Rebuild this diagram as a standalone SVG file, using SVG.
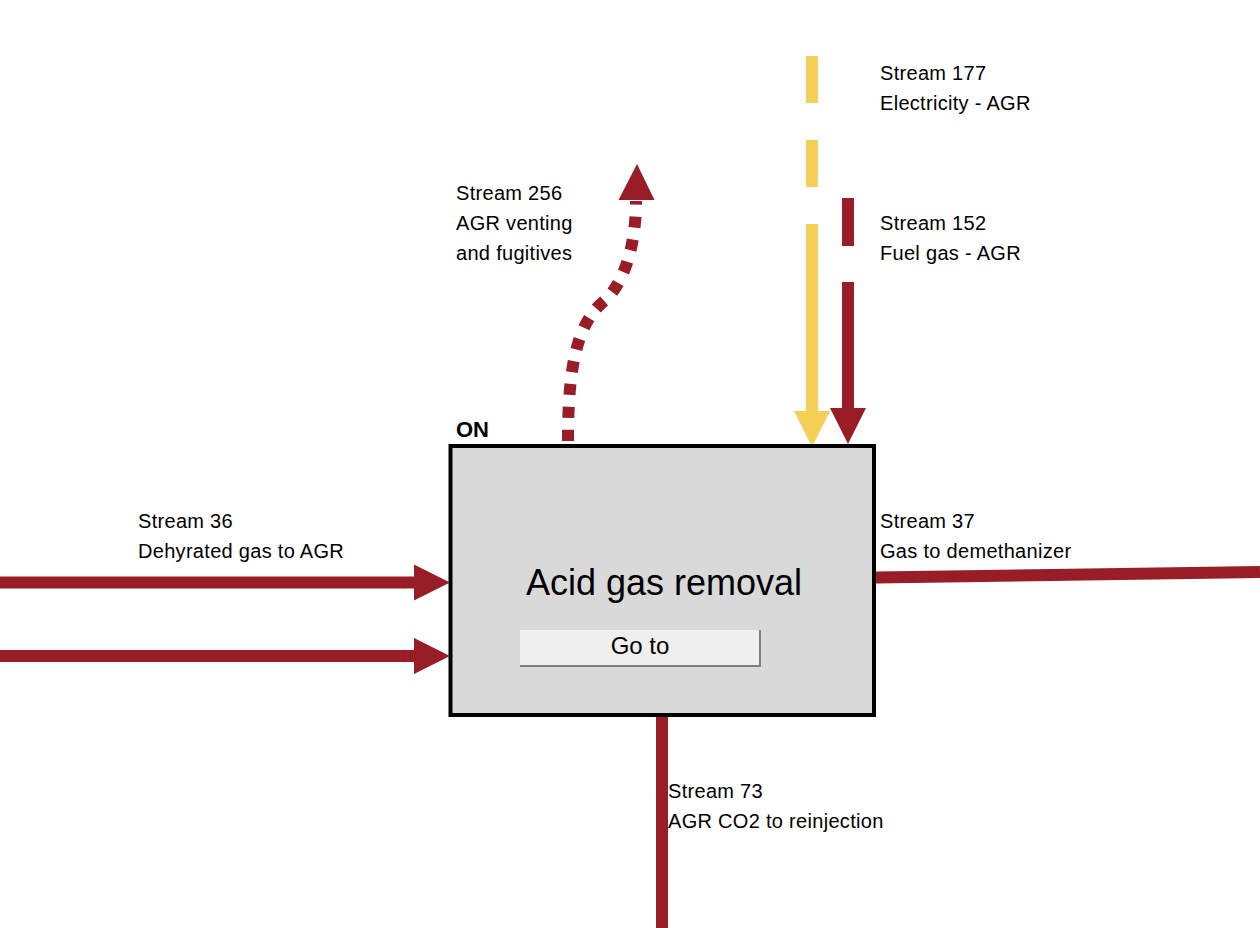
<svg xmlns="http://www.w3.org/2000/svg" width="1260" height="928" viewBox="0 0 1260 928">
  <style>
    .lbl { font-family: "Liberation Sans", Arial, sans-serif; font-size: 20px; fill: #000; letter-spacing: 0.3px; }
    .red { stroke: #981d26; stroke-width: 12; fill: none; }
    .yel { stroke: #f6cf56; stroke-width: 12; fill: none; }
    .redfill { fill: #981d26; }
    .yelfill { fill: #f6cf56; }
  </style>
  <rect width="1260" height="928" fill="#ffffff"/>
  <g id="connectors">
    <g id="s36">
      <line class="red" x1="0" y1="582.5" x2="416" y2="582.5"/>
      <polygon class="redfill" points="414,564.5 450,582.5 414,600.5"/>
    </g>
    <g id="sin2">
      <line class="red" x1="0" y1="656" x2="416" y2="656"/>
      <polygon class="redfill" points="414,638 450,656 414,674"/>
    </g>
    <g id="s37">
      <line class="red" x1="876" y1="577.5" x2="1260" y2="572"/>
    </g>
    <g id="s73">
      <line class="red" x1="662" y1="717" x2="662" y2="928"/>
    </g>
    <g id="s177">
      <line class="yel" x1="812" y1="56" x2="812" y2="187" stroke-dasharray="47 37"/>
      <line class="yel" x1="812" y1="224" x2="812" y2="413"/>
      <polygon class="yelfill" points="794,411 830,411 812,447"/>
    </g>
    <g id="s152">
      <line class="red" x1="848" y1="198" x2="848" y2="246"/>
      <line class="red" x1="848" y1="282" x2="848" y2="410"/>
      <polygon class="redfill" points="830,408 866,408 848,444"/>
    </g>
    <g id="s256">
      <path class="red" d="M568,441 C568,370 576,325 603,302 C624,285 636,245 636,201" stroke-dasharray="11 12"/>
      <polygon class="redfill" points="618.5,200 654.5,200 637,164"/>
    </g>
  </g>
  <g id="node-agr">
    <text x="456" y="437" font-family="'Liberation Sans', Arial, sans-serif" font-size="22" font-weight="bold">ON</text>
    <rect x="450.5" y="446" width="423.5" height="269" fill="#d9d9d9" stroke="#000" stroke-width="4"/>
    <text x="664" y="595" text-anchor="middle" font-family="'Liberation Sans', Arial, sans-serif" font-size="36">Acid gas removal</text>
    <g id="goto-button">
      <rect x="520" y="630" width="241" height="37" fill="#7f7f7f"/>
      <rect x="520" y="630" width="239" height="35" fill="#efefef"/>
      <text x="640" y="654" text-anchor="middle" font-family="'Liberation Sans', Arial, sans-serif" font-size="24">Go to</text>
    </g>
  </g>
  <g id="labels">
    <g id="lbl-177"><text class="lbl" x="880" y="80">Stream 177</text><text class="lbl" x="880" y="110">Electricity - AGR</text></g>
    <g id="lbl-152"><text class="lbl" x="880" y="230">Stream 152</text><text class="lbl" x="880" y="260">Fuel gas - AGR</text></g>
    <g id="lbl-256"><text class="lbl" x="456" y="200">Stream 256</text><text class="lbl" x="456" y="230">AGR venting</text><text class="lbl" x="456" y="260">and fugitives</text></g>
    <g id="lbl-36"><text class="lbl" x="138" y="528">Stream 36</text><text class="lbl" x="138" y="558">Dehyrated gas to AGR</text></g>
    <g id="lbl-37"><text class="lbl" x="880" y="528">Stream 37</text><text class="lbl" x="880" y="558">Gas to demethanizer</text></g>
    <g id="lbl-73"><text class="lbl" x="668" y="798">Stream 73</text><text class="lbl" x="668" y="828">AGR CO2 to reinjection</text></g>
  </g>
</svg>
